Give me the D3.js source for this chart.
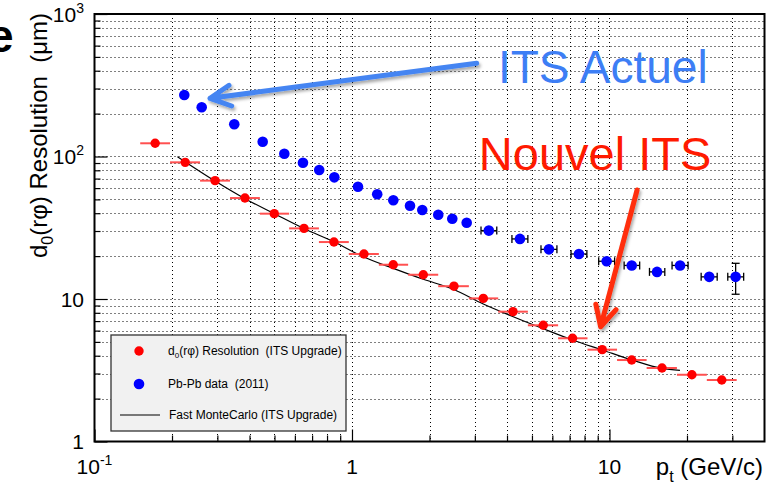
<!DOCTYPE html>
<html><head><meta charset="utf-8">
<script src="https://cdn.jsdelivr.net/npm/d3@7"></script>
<style>
body{margin:0;background:#fff}
svg{display:block;font-family:"Liberation Sans",Arial,Helvetica,sans-serif}
</style>
</head><body>
<svg id="c" width="769" height="493"></svg>
<script>
// ---------- data ----------
const redX = [0.172,0.225,0.294,0.384,0.499,0.651,0.851,1.113,1.446,1.892,2.489,3.236,4.22,5.53,7.19,9.37,12.2,16.0,20.9,27.3];
const redY = [123.8,91.0,67.7,51.1,39.7,31.3,25.1,20.7,17.4,14.8,12.3,10.1,8.15,6.54,5.30,4.41,3.73,3.28,2.94,2.70];
const redBinEdges = [0.1505,0.1965,0.257,0.336,0.4387,0.570,0.744,0.972,1.2716,1.652,2.162,2.844,3.697,4.82,6.318,8.215,10.7,13.94,18.28,23.88,31.19];

const blueX = [0.2232,0.2608,0.349,0.450,0.546,0.645,0.746,0.854,1.055,1.253,1.447,1.680,1.875,2.163,2.452,2.789,3.40,4.49,5.82,7.61,9.75,12.2,15.3,18.8,24.4,30.9];
const blueY = [270.2,221.4,168.3,127.0,104.6,90.4,80.4,71.4,61.4,54.4,49.3,45.1,42.1,39.0,36.6,34.3,30.2,26.4,22.3,20.7,18.4,17.2,15.5,17.2,14.3,14.3];
const blueXLo = [null,null,null,null,null,null,null,null,null,null,null,null,null,null,null,null,3.17,4.18,5.42,7.09,9.08,11.4,14.3,17.5,22.7,28.8];
const blueXHi = [null,null,null,null,null,null,null,null,null,null,null,null,null,null,null,null,3.65,4.82,6.25,8.17,10.47,13.1,16.4,20.2,26.2,33.2];
const blueYLo = [null,null,null,null,null,null,null,null,null,null,null,null,null,null,null,null,null,null,null,null,null,null,null,null,null,10.8];
const blueYHi = [null,null,null,null,null,null,null,null,null,null,null,null,null,null,null,null,null,null,null,null,null,null,null,null,null,17.8];

const mcX = [0.2099,0.2938,0.384,0.502,0.656,0.851,1.106,1.447,1.892,2.474,3.235,4.23,5.53,7.19,9.37,12.23,15.99,18.78];
const mcY = [99.7,67.3,50.6,39.5,31.0,25.2,19.8,16.4,13.75,11.7,9.22,7.51,6.19,5.16,4.39,3.73,3.26,3.16];

const xMajorTicks = [0.1, 1, 10];
const xTickLabels = [["10","-1"],["1",""],["10",""]];
const yMajorTicks = [1, 10, 100, 1000];
const yTickLabels = [["1",""],["10",""],["10","2"],["10","3"]];

const legendLabels = ["Resolution  (ITS Upgrade)", "Pb-Pb data  (2011)", "Fast MonteCarlo (ITS Upgrade)"];

// annotations in data coordinates
const blueArrow = {x1: 3.05, y1: 450.8, x2: 0.281, y2: 256};
const redArrow  = {x1: 12.8, y1: 58.2, x2: 9.24, y2: 6.39};
const blueText = {x: 3.69, y: 328, text: "ITS Actuel"};
const redText  = {x: 3.11, y: 80.4, text: "Nouvel ITS"};

// ---------- layout ----------
const svg = d3.select("#c");
const L = 94.5, R = 764.5, T = 14, B = 441.5;
const x = d3.scaleLog().domain([0.1, 40]).range([L, R]);
const y = d3.scaleLog().domain([1, 1000]).range([B, T]);

const defs = svg.append("defs");
const f = defs.append("filter").attr("id","sh").attr("x","-20%").attr("y","-20%").attr("width","140%").attr("height","140%");
f.append("feDropShadow").attr("dx",1.5).attr("dy",2.5).attr("stdDeviation",1.5).attr("flood-color","#000").attr("flood-opacity",0.35);

// cropped letter top-left
svg.append("text").attr("x",-12).attr("y",52).attr("font-size",46).attr("font-weight","bold").text("e");

// grid
const xGrid = x.ticks().filter(v => v > 0.1 && v < 40);
const yGrid = y.ticks().filter(v => v > 1 && v < 1000);
const g = svg.append("g").attr("stroke","#000").attr("stroke-width",1).attr("stroke-dasharray","1,3");
g.selectAll(".gx").data(xGrid).join("line")
  .attr("x1", d => Math.round(x(d))+0.5).attr("x2", d => Math.round(x(d))+0.5).attr("y1", T).attr("y2", B);
g.selectAll(".gy").data(yGrid).join("line")
  .attr("y1", d => Math.round(y(d))+0.5).attr("y2", d => Math.round(y(d))+0.5).attr("x1", L).attr("x2", R);

// axes ticks
const xMinor = x.ticks().filter(v => !xMajorTicks.includes(v) && v < 40);
const yMinor = y.ticks().filter(v => !yMajorTicks.includes(v));
svg.append("g").attr("transform",`translate(0,${B})`)
  .call(d3.axisBottom(x).tickValues(xMinor).tickSize(-6).tickFormat(""))
  .call(a => a.select(".domain").remove()).selectAll("line").attr("stroke-width",1.2);
svg.append("g").attr("transform",`translate(0,${B})`)
  .call(d3.axisBottom(x).tickValues(xMajorTicks).tickSize(-12).tickFormat(""))
  .call(a => a.select(".domain").remove()).selectAll("line").attr("stroke-width",1.2);
svg.append("g").attr("transform",`translate(${L},0)`)
  .call(d3.axisLeft(y).tickValues(yMinor).tickSize(-6).tickFormat(""))
  .call(a => a.select(".domain").remove()).selectAll("line").attr("stroke-width",1.2);
svg.append("g").attr("transform",`translate(${L},0)`)
  .call(d3.axisLeft(y).tickValues(yMajorTicks).tickSize(-13).tickFormat(""))
  .call(a => a.select(".domain").remove()).selectAll("line").attr("stroke-width",1.2);

// tick labels
xMajorTicks.forEach((v,i) => {
  const t = svg.append("text").attr("x", x(v)).attr("y", 474).attr("text-anchor","middle").attr("font-size",21);
  t.append("tspan").text(xTickLabels[i][0]);
  if (xTickLabels[i][1]) t.append("tspan").attr("font-size",14).attr("dy",-9).text(xTickLabels[i][1]);
});
yMajorTicks.forEach((v,i) => {
  const t = svg.append("text").attr("x", 84).attr("y", y(v)+7.5).attr("text-anchor","end").attr("font-size",21);
  t.append("tspan").text(yTickLabels[i][0]);
  if (yTickLabels[i][1]) t.append("tspan").attr("font-size",14).attr("dy",-9).text(yTickLabels[i][1]);
});

// axis titles
const xt = svg.append("text").attr("x", 763).attr("y", 475).attr("text-anchor","end").attr("font-size",24);
xt.append("tspan").text("p");
xt.append("tspan").attr("font-size",16).attr("dy",7).text("t");
xt.append("tspan").attr("dy",-7).text("\u00a0(GeV/c)");

const yt = svg.append("text").attr("transform","translate(47,13) rotate(-90)").attr("text-anchor","end").attr("font-size",24);
yt.append("tspan").text("d");
yt.append("tspan").attr("font-size",16).attr("dy",6).text("0");
yt.append("tspan").attr("dy",-6).text("(r\u03c6) Resolution\u00a0 (\u03bcm)");

// frame
svg.append("rect").attr("x",L).attr("y",T).attr("width",R-L).attr("height",B-T)
  .attr("fill","none").attr("stroke","#000").attr("stroke-width",2);

// Fast MC line
svg.append("path").datum(mcX.map((v,i)=>[v,mcY[i]]))
  .attr("fill","none").attr("stroke","#000").attr("stroke-width",1.2)
  .attr("d", d3.line().x(d=>x(d[0])).y(d=>y(d[1])).curve(d3.curveMonotoneX));

// red error bars and markers
svg.append("g").selectAll("line").data(redX).join("line")
  .attr("x1",(d,i)=>x(redBinEdges[i])).attr("x2",(d,i)=>x(redBinEdges[i+1]))
  .attr("y1",(d,i)=>y(redY[i])).attr("y2",(d,i)=>y(redY[i]))
  .attr("stroke","#ff5050").attr("stroke-width",2);
svg.append("g").selectAll("circle").data(redX).join("circle")
  .attr("cx",d=>x(d)).attr("cy",(d,i)=>y(redY[i])).attr("r",4.7).attr("fill","#ff0000");

// blue error bars
const be = svg.append("g").attr("stroke","#000").attr("stroke-width",1.3);
blueX.forEach((v,i) => {
  const cy = y(blueY[i]);
  if (blueXLo[i] !== null) {
    be.append("line").attr("x1",x(blueXLo[i])).attr("x2",x(blueXHi[i])).attr("y1",cy).attr("y2",cy);
    be.append("line").attr("x1",x(blueXLo[i])).attr("x2",x(blueXLo[i])).attr("y1",cy-4).attr("y2",cy+4);
    be.append("line").attr("x1",x(blueXHi[i])).attr("x2",x(blueXHi[i])).attr("y1",cy-4).attr("y2",cy+4);
  }
  if (blueYLo[i] !== null) {
    const cx = x(v);
    be.append("line").attr("x1",cx).attr("x2",cx).attr("y1",y(blueYLo[i])).attr("y2",y(blueYHi[i]));
    be.append("line").attr("x1",cx-4).attr("x2",cx+4).attr("y1",y(blueYLo[i])).attr("y2",y(blueYLo[i]));
    be.append("line").attr("x1",cx-4).attr("x2",cx+4).attr("y1",y(blueYHi[i])).attr("y2",y(blueYHi[i]));
  }
});
svg.append("g").selectAll("circle").data(blueX).join("circle")
  .attr("cx",d=>x(d)).attr("cy",(d,i)=>y(blueY[i])).attr("r",5.3).attr("fill","#0000ff");

// legend
const lg = svg.append("g");
lg.append("rect").attr("x",111).attr("y",335).attr("width",235).attr("height",96)
  .attr("fill","#f1f1f1").attr("stroke","#333").attr("stroke-width",1.3);
lg.append("circle").attr("cx",139).attr("cy",351).attr("r",4.7).attr("fill","#ff0000");
lg.append("circle").attr("cx",139).attr("cy",384).attr("r",5.3).attr("fill","#0000ff");
lg.append("line").attr("x1",120).attr("x2",160).attr("y1",415).attr("y2",415).attr("stroke","#000").attr("stroke-width",1.2);
const l1 = lg.append("text").attr("x",168).attr("y",355).attr("font-size",12);
l1.append("tspan").text("d");
l1.append("tspan").attr("font-size",8).attr("dy",3).text("0");
l1.append("tspan").attr("dy",-3).text("(r\u03c6) " + legendLabels[0].replace(/  /g,"\u00a0 "));
lg.append("text").attr("x",168).attr("y",388).attr("font-size",12).text(legendLabels[1].replace(/  /g,"\u00a0 "));
lg.append("text").attr("x",169).attr("y",419).attr("font-size",12).text(legendLabels[2]);

// arrows
function arrow(a, color) {
  const x1 = x(a.x1), y1 = y(a.y1), x2 = x(a.x2), y2 = y(a.y2);
  const ang = Math.atan2(y1 - y2, x1 - x2), w = 27 * Math.PI / 180, len = 23;
  const p = `M${x1},${y1}L${x2},${y2}` +
    `M${x2 + len*Math.cos(ang-w)},${y2 + len*Math.sin(ang-w)}L${x2},${y2}L${x2 + len*Math.cos(ang+w)},${y2 + len*Math.sin(ang+w)}`;
  svg.append("path").attr("d",p).attr("fill","none").attr("stroke",color).attr("stroke-width",5)
    .attr("stroke-linecap","round").attr("stroke-linejoin","round").attr("filter","url(#sh)");
}
arrow(blueArrow, "#4585f2");
arrow(redArrow, "#ff2d0a");

svg.append("text").attr("x",x(blueText.x)).attr("y",y(blueText.y)).attr("font-size",46).attr("fill","#3d7ef5").text(blueText.text);
svg.append("text").attr("x",x(redText.x)).attr("y",y(redText.y)).attr("font-size",47).attr("fill","#ff1a00").text(redText.text);
</script>
</body></html>
